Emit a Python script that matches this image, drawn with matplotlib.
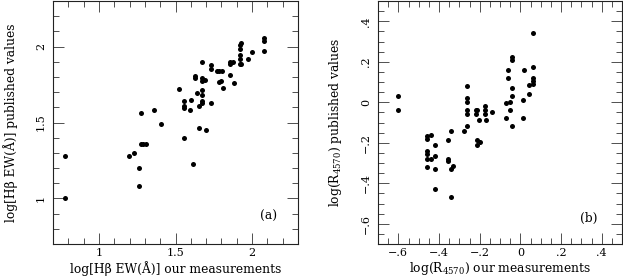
import matplotlib
matplotlib.use("Agg")
import matplotlib.pyplot as plt
from matplotlib.ticker import MultipleLocator, FuncFormatter

# Panel (a): log[Hbeta EW] ours vs published
hb_ours = [0.780, 0.780, 1.198, 1.228, 1.259, 1.259, 1.276, 1.276, 1.291, 1.307,
           1.357, 1.407, 1.524, 1.557, 1.557, 1.557, 1.557, 1.593, 1.604, 1.615,
           1.626, 1.626, 1.641, 1.654, 1.654, 1.674, 1.674, 1.674, 1.691, 1.674,
           1.674, 1.674, 1.674, 1.696, 1.735, 1.735, 1.735, 1.772, 1.785, 1.802,
           1.798, 1.785, 1.807, 1.857, 1.857, 1.857, 1.874, 1.883, 1.930, 1.920,
           1.920, 1.920, 1.920, 1.920, 1.930, 1.974, 2.002, 2.080, 2.080, 2.080]
hb_pub = [1.281, 1.000, 1.281, 1.300, 1.200, 1.081, 1.561, 1.360, 1.360, 1.360,
          1.581, 1.489, 1.721, 1.643, 1.610, 1.594, 1.401, 1.581, 1.649, 1.230,
          1.809, 1.792, 1.691, 1.610, 1.463, 1.901, 1.794, 1.776, 1.781, 1.711,
          1.680, 1.643, 1.627, 1.452, 1.879, 1.851, 1.629, 1.836, 1.840, 1.840,
          1.774, 1.765, 1.730, 1.811, 1.884, 1.899, 1.899, 1.759, 2.022, 2.011,
          1.982, 1.945, 1.917, 1.884, 1.884, 1.921, 1.963, 2.055, 2.037, 1.969]

# Panel (b): log(R4570) ours vs published
r_ours = [-0.600, -0.600, -0.460, -0.460, -0.441, -0.460, -0.460, -0.460, -0.441,
          -0.419, -0.460, -0.419, -0.419, -0.419, -0.358, -0.358, -0.358, -0.340,
          -0.340, -0.332, -0.340, -0.279, -0.260, -0.260, -0.260, -0.260, -0.260,
          -0.260, -0.217, -0.211, -0.217, -0.201, -0.211, -0.211, -0.198, -0.173,
          -0.173, -0.173, -0.168, -0.140, -0.069, -0.069, -0.049, -0.061, -0.061,
          -0.049, -0.039, -0.039, -0.039, -0.039, -0.039, 0.012, 0.012, 0.020,
          0.041, 0.041, 0.061, 0.061, 0.061, 0.061, 0.061]
r_pub = [0.031, -0.038, -0.168, -0.181, -0.160, -0.242, -0.258, -0.280, -0.280,
         -0.267, -0.319, -0.209, -0.329, -0.428, -0.188, -0.280, -0.291, -0.140,
         -0.332, -0.316, -0.467, -0.140, 0.082, 0.021, 0.002, -0.036, -0.058,
         -0.119, -0.040, -0.036, -0.058, -0.089, -0.188, -0.209, -0.195, -0.020,
         -0.040, -0.056, -0.089, -0.048, -0.077, -0.002, 0.002, 0.161, 0.120,
         -0.040, 0.224, 0.207, 0.071, 0.030, -0.119, 0.010, -0.079, 0.161,
         0.084, 0.043, 0.342, 0.173, 0.120, 0.104, 0.092]

plt.rcParams['font.family'] = ['DejaVu Serif']
plt.rcParams['mathtext.fontset'] = 'dejavuserif'
FS = 8.8
TFS = 8

fig = plt.figure(figsize=(6.23, 2.76), dpi=100)
axA = fig.add_axes([53/623, 32/276, 245/623, 243/276])
axB = fig.add_axes([378/623, 32/276, 244/623, 243/276])


def style(ax):
    ax.tick_params(which='both', direction='in', top=True, right=True,
                   width=0.6, color='#333333', labelsize=TFS)
    ax.tick_params(which='major', length=8)
    ax.tick_params(axis='x', which='major', pad=3)
    ax.tick_params(axis='y', which='major', pad=5)
    ax.tick_params(which='minor', length=4.3)
    ax.tick_params(axis='y', labelrotation=90)
    for s in ax.spines.values():
        s.set_linewidth(0.8)
        s.set_color('#222222')
    for lab in ax.get_yticklabels():
        lab.set_va('center')


def fmt_a(v, pos):
    s = ('%.1f' % v).rstrip('0').rstrip('.')
    return s


def fmt_b(v, pos):
    if abs(v) < 1e-9:
        return '0'
    s = '%.1f' % v
    s = s.replace('0.', '.').replace('-', '\u2212')
    return s


axA.plot(hb_ours, hb_pub, 'o', color='black', markersize=3.6, markeredgewidth=0)
axA.set_xlim(0.7, 2.3)
axA.set_ylim(0.7, 2.3)
axA.xaxis.set_major_locator(MultipleLocator(0.5))
axA.yaxis.set_major_locator(MultipleLocator(0.5))
axA.xaxis.set_minor_locator(MultipleLocator(0.1))
axA.yaxis.set_minor_locator(MultipleLocator(0.1))
axA.xaxis.set_major_formatter(FuncFormatter(fmt_a))
axA.yaxis.set_major_formatter(FuncFormatter(fmt_a))
style(axA)
axA.set_xlabel('log[Hβ EW(Å)] our measurements', fontsize=FS, va='center')
axA.set_ylabel('log[Hβ EW(Å)] published values', fontsize=FS, va='center')
axA.xaxis.set_label_coords(0.5, -(268.5 - 244) / 243)
axA.yaxis.set_label_coords(-(53 - 11) / 245, 0.5)
axA.text(0.88, 0.115, '(a)', transform=axA.transAxes, fontsize=FS,
         ha='center', va='center')

axB.plot(r_ours, r_pub, 'o', color='black', markersize=3.6, markeredgewidth=0)
axB.set_xlim(-0.7, 0.5)
axB.set_ylim(-0.7, 0.5)
axB.xaxis.set_major_locator(MultipleLocator(0.2))
axB.yaxis.set_major_locator(MultipleLocator(0.2))
axB.xaxis.set_minor_locator(MultipleLocator(0.05))
axB.yaxis.set_minor_locator(MultipleLocator(0.05))
axB.xaxis.set_major_formatter(FuncFormatter(fmt_b))
axB.yaxis.set_major_formatter(FuncFormatter(fmt_b))
style(axB)
axB.set_xlabel(r'log(R$_{4570}$) our measurements', fontsize=FS, va='center')
axB.set_ylabel(r'log(R$_{4570}$) published values', fontsize=FS, va='center')
axB.xaxis.set_label_coords(0.5, -(268.5 - 244) / 243)
axB.yaxis.set_label_coords(-(378 - 335) / 244, 0.5)
axB.text(0.865, 0.105, '(b)', transform=axB.transAxes, fontsize=FS,
         ha='center', va='center')

fig.savefig('out.png', dpi=100)
